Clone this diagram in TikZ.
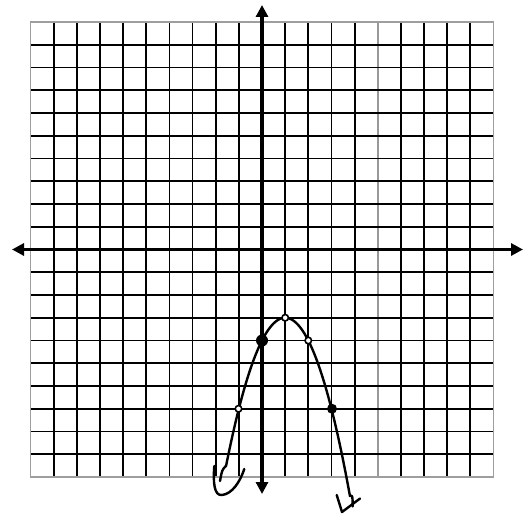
\documentclass[tikz,border=0pt]{standalone}
\usetikzlibrary{arrows.meta}
\begin{document}
\begin{tikzpicture}[x=1bp,y=-1bp,
  gridline/.style={line width=1.8bp, black},
  paleline/.style={line width=1.8bp, black!40},
  borderline/.style={line width=1.6bp, black!38},
  axisline/.style={line width=3.4bp, {Triangle[length=12bp,width=12bp]}-{Triangle[length=12bp,width=12bp]}},
  curveline/.style={line width=2.4bp, line cap=round, line join=round},
  soliddot/.style={circle, fill=black, inner sep=0pt, minimum size=12bp},
  smalldot/.style={circle, fill=black, inner sep=0pt, minimum size=10bp},
  opendot/.style={circle, draw=black, fill=white, line width=1.6bp, inner sep=0pt, minimum size=6.5bp}]
\useasboundingbox (0,0) rectangle (532,516);
\fill[white] (0,0) rectangle (532,516);
% vertical grid lines
\foreach \i in {-9,...,-1,1,2,3,4,6,7,8,9} {
  \draw[gridline] ({262+23.15*\i},22) -- ({262+23.15*\i},477);
}
\draw[paleline] ({262+23.15*5},22) -- ({262+23.15*5},477);
% horizontal grid lines
\foreach \j in {-9,...,-1,1,2,...,9} {
  \draw[gridline] (30.5,{249.5+22.75*\j}) -- (493.5,{249.5+22.75*\j});
}
% border
\draw[borderline] (30.5,22) rectangle (493.5,477);
% axes
\coordinate (yt) at (262,5);
\coordinate (yb) at (262,494);
\coordinate (xl) at (12,249.5);
\coordinate (xr) at (523,249.5);
\draw[axisline] (xl) -- (xr);
\draw[axisline] (yb) -- (yt);
% parabola y = -(x-1)^2 - 3
\coordinate (lend) at (220,481);
\coordinate (rend) at (352.7,506.5);
\draw[curveline] (lend) .. controls (222,470) .. ({262+23.15*(-1.55)},{249.5+22.75*((-2.55)*(-2.55)+3)})
  -- plot[domain=-1.55:3.8, samples=80] ({262+23.15*\x},{249.5+22.75*((\x-1)*(\x-1)+3)})
  .. controls (352.5,495) .. (rend);
% hand-drawn arrow ends
\coordinate (la1) at (214.3,466);
\coordinate (la2) at (244.3,469);
\draw[curveline] (la1) .. controls (213,482) and (214,496) .. (222,495)
  .. controls (232,494) and (240,482) .. (la2);
\coordinate (ra1) at (336.7,495);
\coordinate (ra2) at (342,512);
\coordinate (ra3) at (360,498.5);
\draw[curveline] (ra1) -- (ra2) -- (ra3);
% points
\node[soliddot] (p0) at (262,340.5) {};
\node[smalldot] (p3) at (332,408.75) {};
\node[opendot] (pv) at (285.2,317.75) {};
\node[opendot] (p2) at (308.3,340.5) {};
\node[opendot] (pm) at (238.5,408.75) {};
\end{tikzpicture}
\end{document}
